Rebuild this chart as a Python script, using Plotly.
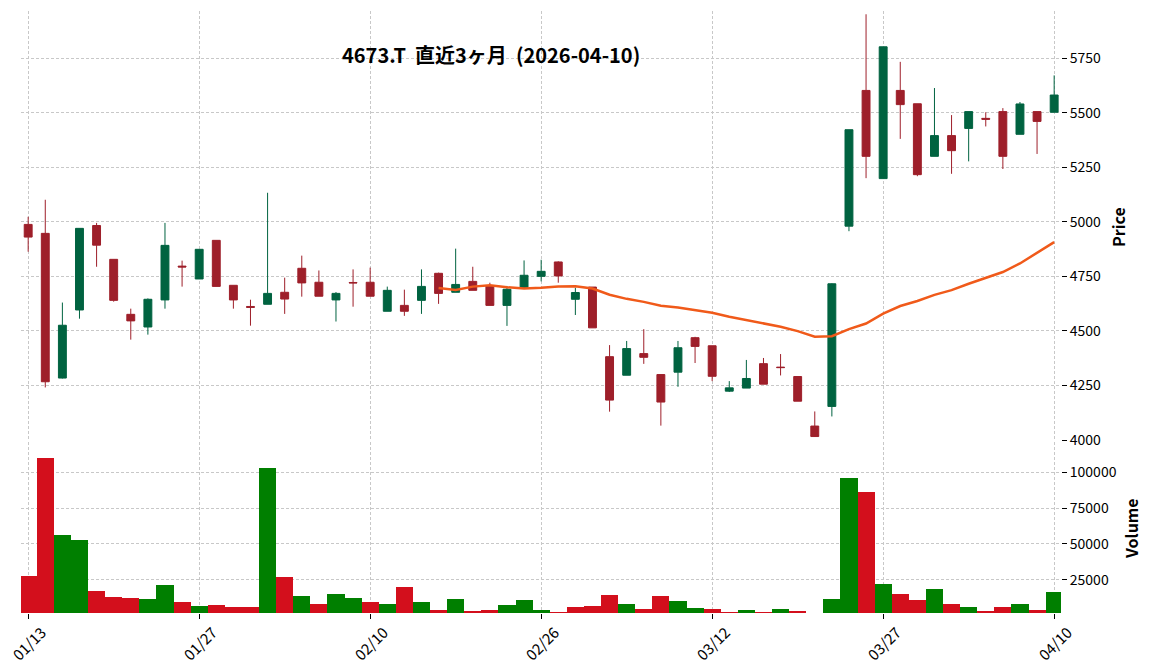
import plotly.graph_objects as go

# Trading days shown (index 0..60)
dates = ['01/13', '01/14', '01/15', '01/16', '01/19', '01/20', '01/21', '01/22', '01/23', '01/26',
         '01/27', '01/28', '01/29', '01/30', '02/02', '02/03', '02/04', '02/05', '02/06', '02/09',
         '02/10', '02/12', '02/13', '02/16', '02/17', '02/18', '02/19', '02/20', '02/24', '02/25',
         '02/26', '02/27', '03/02', '03/03', '03/04', '03/05', '03/06', '03/09', '03/10', '03/11',
         '03/12', '03/13', '03/16', '03/17', '03/18', '03/19', '03/23', '03/24', '03/25', '03/26',
         '03/27', '03/30', '03/31', '04/01', '04/02', '04/03', '04/06', '04/07', '04/08', '04/09',
         '04/10']

opens = [4988, 4947, 4284, 4596, 4983, 4828, 4576, 4518, 4642, 4797,
         4738, 4915, 4709, 4612, 4622, 4677, 4787, 4723, 4642, 4722,
         4723, 4590, 4617, 4640, 4764, 4677, 4727, 4706, 4617, 4698,
         4750, 4816, 4645, 4701, 4382, 4297, 4396, 4300, 4311, 4469,
         4432, 4224, 4238, 4350, 4334, 4291, 4064, 4154, 4980, 5602,
         5198, 5602, 5541, 5300, 5395, 5428, 5474, 5505, 5401, 5505,
         5502]
highs = [5023, 5101, 4630, 4970, 4995, 4828, 4602, 4649, 4995, 4822,
         4874, 4915, 4709, 4643, 5133, 4744, 4845, 4777, 4678, 4782,
         4790, 4703, 4689, 4782, 4767, 4877, 4794, 4721, 4706, 4823,
         4826, 4819, 4698, 4701, 4435, 4454, 4508, 4300, 4454, 4473,
         4432, 4270, 4367, 4376, 4394, 4291, 4131, 4718, 5422, 5951,
         5802, 5733, 5541, 5613, 5489, 5505, 5502, 5521, 5549, 5505,
         5671]
lows = [4863, 4241, 4282, 4556, 4794, 4634, 4460, 4483, 4602, 4703,
        4738, 4704, 4602, 4524, 4622, 4578, 4657, 4659, 4543, 4611,
        4659, 4590, 4569, 4578, 4624, 4677, 4686, 4617, 4523, 4698,
        4727, 4721, 4573, 4514, 4130, 4297, 4349, 4066, 4244, 4353,
        4270, 4220, 4238, 4256, 4296, 4178, 4015, 4108, 4957, 5200,
        5198, 5380, 5209, 5300, 5220, 5277, 5437, 5242, 5401, 5311,
        5502]
closes = [4930, 4267, 4526, 4970, 4893, 4640, 4546, 4645, 4892, 4793,
          4874, 4704, 4642, 4608, 4672, 4646, 4720, 4659, 4672, 4720,
          4659, 4686, 4590, 4704, 4672, 4713, 4686, 4617, 4691, 4755,
          4773, 4752, 4676, 4514, 4183, 4419, 4379, 4174, 4423, 4429,
          4292, 4239, 4282, 4256, 4332, 4178, 4016, 4716, 5422, 5300,
          5802, 5537, 5216, 5395, 5326, 5505, 5470, 5300, 5540, 5460,
          5581]
volumes = [27320, 110180, 55870, 52390, 16880, 12700, 12000, 11310, 21050, 9220,
           6430, 7130, 5740, 5740, 103220, 26620, 13400, 7820, 14790, 12000,
           9220, 7820, 19660, 9220, 3650, 11310, 2950, 3650, 7130, 10610,
           3650, 2250, 5740, 6430, 14090, 7820, 4340, 13400, 9910, 5040,
           4340, 2250, 3650, 2250, 4340, 2950, 1000, 11310, 95560, 85810,
           21750, 14790, 10610, 18270, 7820, 5740, 2950, 5740, 7820, 3650,
           16180]

# 25-day moving average (drawn from the 25th session on)
ma_start = 24
ma_values = [4697, 4688, 4703, 4709, 4700, 4694, 4698, 4704, 4705, 4694,
             4666, 4647, 4633, 4615, 4607, 4596, 4583, 4565, 4549, 4533,
             4519, 4499, 4473, 4476, 4508, 4534, 4579, 4614, 4637, 4665,
             4687, 4716, 4744, 4770, 4809, 4858, 4907]

title_text = '4673.T  直近3ヶ月  (2026-04-10)'
tick_dates = dates[::10]

FONT = 'Noto Sans CJK JP'
UP, DOWN = '#006340', '#9e1f2a'
VUP, VDOWN = '#007f00', '#d30f1c'

# volume colour follows close vs previous close
vol_colors = [VDOWN] + [VUP if closes[i] >= closes[i - 1] else VDOWN for i in range(1, len(closes))]

fig = go.Figure()

fig.add_trace(go.Candlestick(
    x=dates, open=opens, high=highs, low=lows, close=closes,
    increasing=dict(line=dict(color=UP, width=1), fillcolor=UP),
    decreasing=dict(line=dict(color=DOWN, width=1), fillcolor=DOWN),
    xaxis='x', yaxis='y', showlegend=False, hoverinfo='x+y'
))

fig.add_trace(go.Scatter(
    x=dates[ma_start:], y=ma_values, mode='lines',
    line=dict(color='#f05a1a', width=2.5),
    xaxis='x', yaxis='y', showlegend=False
))

fig.add_trace(go.Bar(
    x=dates, y=volumes, marker=dict(color=vol_colors, line=dict(width=0)),
    width=1.0, xaxis='x2', yaxis='y2', showlegend=False
))

grid = dict(showgrid=True, gridcolor='#c8c8c8', gridwidth=0.8, griddash='3px,2px',
            zeroline=False, showline=False, automargin=False)

# rotated date labels centred on their ticks (matplotlib style)
date_labels = [dict(text=d, xref='x2', yref='paper', x=d, y=-0.05, showarrow=False,
                    textangle=-45, xanchor='center', yanchor='middle',
                    font=dict(family=FONT, size=15, color='black'))
               for d in tick_dates]

fig.update_layout(
    width=1152, height=670,
    # page body adds 8px offset, margins compensate for it
    margin=dict(l=13, r=99, t=3, b=65),
    paper_bgcolor='white', plot_bgcolor='white',
    font=dict(family=FONT, size=14, color='black'),
    boxgap=0.34, bargap=0,
    xaxis=dict(domain=[0, 1], anchor='y', type='category', range=[-0.42, 60.4],
               tickvals=tick_dates, showticklabels=False, ticks='',
               rangeslider=dict(visible=False), **grid),
    xaxis2=dict(domain=[0, 1], anchor='y2', type='category', matches='x', range=[-0.42, 60.4],
                tickvals=tick_dates, showticklabels=False,
                ticks='outside', ticklen=5, tickcolor='black', tickwidth=1, **grid),
    yaxis=dict(domain=[0.2866, 1], anchor='x', side='right', range=[3998, 5966],
               tick0=4000, dtick=250, ticks='outside', ticklen=5, tickcolor='black',
               tickwidth=1, **grid),
    yaxis2=dict(domain=[0, 0.284], anchor='x2', side='right', range=[1790, 121000],
                tickvals=[25000, 50000, 75000, 100000], tickformat='d',
                ticks='outside', ticklen=5, tickcolor='black', tickwidth=1, **grid),
    annotations=[
        dict(text=title_text, xref='paper', yref='paper', x=0.452, y=0.927,
             showarrow=False, xanchor='center', yanchor='middle',
             font=dict(family=FONT, size=20, color='black', weight='bold')),
        dict(text='Price', xref='paper', yref='paper', x=1.0548, y=0.6412,
             showarrow=False, textangle=-90, xanchor='center', yanchor='middle',
             font=dict(family=FONT, size=16, color='black', weight='bold')),
        dict(text='Volume', xref='paper', yref='paper', x=1.0673, y=0.1412,
             showarrow=False, textangle=-90, xanchor='center', yanchor='middle',
             font=dict(family=FONT, size=16, color='black', weight='bold')),
    ] + date_labels,
    hovermode='x'
)

fig.write_html("out.html")
